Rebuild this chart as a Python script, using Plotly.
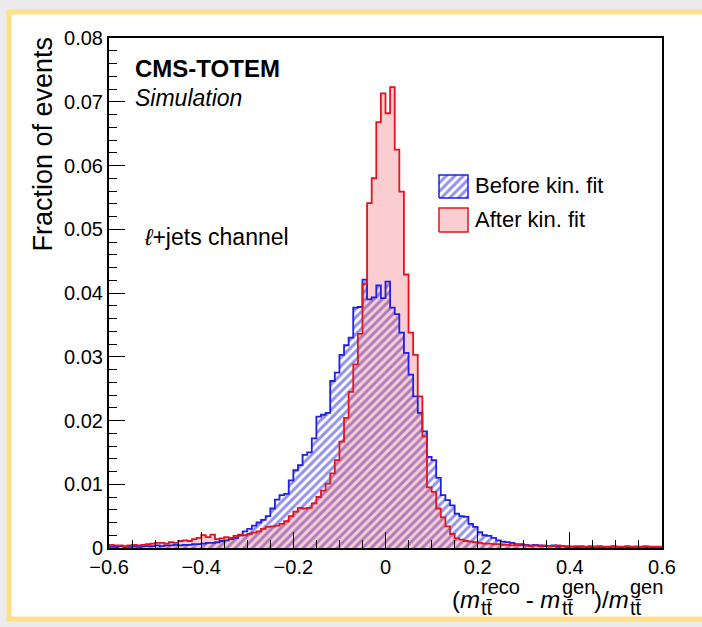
import numpy as np
import plotly.graph_objects as go

# ---------------- data ----------------
x_min, x_max, n_bins = -0.6, 0.6, 120

before_kin_fit = [
    0.0002, 0.0002, 0.0003, 0.0002, 0.0002, 0.0003, 0.0002, 0.0003, 0.0003, 0.0003,
    0.0004, 0.0003, 0.0004, 0.0004, 0.0005, 0.0004, 0.0005, 0.0005, 0.0006, 0.0006,
    0.0007, 0.0008, 0.0008, 0.0009, 0.0011, 0.0012, 0.0014, 0.0016, 0.0020, 0.0026,
    0.0030, 0.0035, 0.0040, 0.0044, 0.0050, 0.0062, 0.0076, 0.0083, 0.0085, 0.0106,
    0.0122, 0.0130, 0.0146, 0.0150, 0.0172, 0.0206, 0.0209, 0.0212, 0.0262, 0.0275,
    0.0303, 0.0318, 0.0330, 0.0377, 0.0378, 0.0421, 0.0390, 0.0393, 0.0412, 0.0392,
    0.0418, 0.0377, 0.0367, 0.0338, 0.0306, 0.0272, 0.0238, 0.0212, 0.0183, 0.0143,
    0.0138, 0.0110, 0.0083, 0.0075, 0.0067, 0.0054, 0.0050, 0.0049, 0.0038, 0.0033,
    0.0025, 0.0020, 0.0019, 0.0016, 0.0012, 0.0010, 0.0009, 0.0008, 0.0006, 0.0006,
    0.0005, 0.0004, 0.0005, 0.0004, 0.0003, 0.0003, 0.0004, 0.0002, 0.0003, 0.0002,
    0.0002, 0.0001, 0.0002, 0.0001, 0.0001, 0.0002, 0.0001, 0.0001, 0.0001, 0.0002,
    0.0001, 0.0001, 0.0001, 0.0001, 0.0002, 0.0001, 0.0001, 0.0001, 0.0001, 0.0001,
]

after_kin_fit = [
    0.0005, 0.0004, 0.0004, 0.0003, 0.0004, 0.0005, 0.0004, 0.0005, 0.0006, 0.0007,
    0.0008, 0.0008, 0.0007, 0.0009, 0.0008, 0.0011, 0.0012, 0.0011, 0.0014, 0.0016,
    0.0020, 0.0017, 0.0021, 0.0014, 0.0015, 0.0017, 0.0016, 0.0019, 0.0021, 0.0020,
    0.0022, 0.0024, 0.0026, 0.0030, 0.0033, 0.0034, 0.0035, 0.0038, 0.0042, 0.0050,
    0.0057, 0.0063, 0.0062, 0.0063, 0.0070, 0.0080, 0.0090, 0.0101, 0.0117, 0.0138,
    0.0167, 0.0204, 0.0245, 0.0288, 0.0336, 0.0414, 0.0541, 0.0580, 0.0668, 0.0713,
    0.0682, 0.0723, 0.0625, 0.0559, 0.0429, 0.0338, 0.0303, 0.0238, 0.0175, 0.0095,
    0.0088, 0.0062, 0.0048, 0.0034, 0.0022, 0.0015, 0.0013, 0.0011, 0.0010, 0.0009,
    0.0008, 0.0007, 0.0007, 0.0006, 0.0006, 0.0005, 0.0005, 0.0004, 0.0005, 0.0004,
    0.0004, 0.0003, 0.0004, 0.0003, 0.0004, 0.0003, 0.0003, 0.0004, 0.0003, 0.0003,
    0.0002, 0.0003, 0.0003, 0.0002, 0.0003, 0.0002, 0.0003, 0.0002, 0.0002, 0.0003,
    0.0002, 0.0002, 0.0003, 0.0002, 0.0002, 0.0002, 0.0003, 0.0002, 0.0002, 0.0002,
]

legend_labels = ["Before kin. fit", "After kin. fit"]
x_tick_vals = [-0.6, -0.4, -0.2, 0, 0.2, 0.4, 0.6]
x_tick_text = ["\u22120.6", "\u22120.4", "\u22120.2", "0", "0.2", "0.4", "0.6"]
y_tick_vals = [0, 0.01, 0.02, 0.03, 0.04, 0.05, 0.06, 0.07, 0.08]
y_tick_text = ["0", "0.01", "0.02", "0.03", "0.04", "0.05", "0.06", "0.07", "0.08"]

# ---------------- styling ----------------
FONT = "Liberation Sans, Arial, Helvetica, sans-serif"
BLUE_LINE = "#1f1fe6"
BLUE_HATCH = "#2626d6"
RED_LINE = "#e4141e"
RED_FILL = "rgba(236,70,80,0.27)"

W, H = 702, 627
ML, MR, MT, MB = 109, 40, 38, 79
PW, PH = W - ML - MR, H - MT - MB


def px_x(px):  # pixel -> paper (plot-area) fraction
    return (px - ML) / PW


def px_y(py):
    return (H - MB - py) / PH


edges = np.linspace(x_min, x_max, n_bins + 1)
centers = 0.5 * (edges[:-1] + edges[1:])
bin_w = (x_max - x_min) / n_bins


def outline(vals):
    xs = np.concatenate([[edges[0]], edges[:-1], [edges[-1]]])
    ys = np.concatenate([[0.0], np.asarray(vals), [0.0]])
    return xs, ys


HATCH = dict(shape="/", fgcolor=BLUE_HATCH, bgcolor="rgba(255,255,255,0)",
             size=6, solidity=0.5, fillmode="overlay")

fig = go.Figure()

# blue hatched histogram
fig.add_trace(go.Bar(
    x=centers, y=before_kin_fit, width=bin_w,
    marker=dict(color="rgba(255,255,255,0)", line=dict(width=0), pattern=HATCH),
    showlegend=False, hoverinfo="skip"))
bx, by = outline(before_kin_fit)
fig.add_trace(go.Scatter(x=bx, y=by, mode="lines", line=dict(color=BLUE_LINE, width=1.8, shape="hv"),
                         showlegend=False, hoverinfo="skip"))

# red filled histogram
fig.add_trace(go.Bar(
    x=centers, y=after_kin_fit, width=bin_w,
    marker=dict(color=RED_FILL, line=dict(width=0)),
    showlegend=False, hoverinfo="skip"))
rx, ry = outline(after_kin_fit)
fig.add_trace(go.Scatter(x=rx, y=ry, mode="lines", line=dict(color=RED_LINE, width=1.8, shape="hv"),
                         showlegend=False, hoverinfo="skip"))


# legend boxes on an overlay axis in plot-fraction units
def box(x0, x1, y0, y1):
    return [x0, x1, x1, x0, x0], [y0, y0, y1, y1, y0]


lx0, lx1 = px_x(439), px_x(468)
b_x, b_y = box(lx0, lx1, px_y(198), px_y(175))
fig.add_trace(go.Scatter(x=b_x, y=b_y, xaxis="x2", yaxis="y2", mode="lines", fill="toself",
                         fillcolor="rgba(255,255,255,0)", fillpattern=HATCH,
                         line=dict(color=BLUE_LINE, width=1.5), showlegend=False, hoverinfo="skip"))
r_x, r_y = box(lx0, lx1, px_y(232), px_y(208))
fig.add_trace(go.Scatter(x=r_x, y=r_y, xaxis="x2", yaxis="y2", mode="lines", fill="toself",
                         fillcolor=RED_FILL, line=dict(color=RED_LINE, width=1.5),
                         showlegend=False, hoverinfo="skip"))

annotations = []


def text(x, y, s, size, xanchor="left", yanchor="middle", angle=0):
    annotations.append(dict(x=x, y=y, xref="paper", yref="paper", text=s, showarrow=False,
                            xanchor=xanchor, yanchor=yanchor, textangle=angle,
                            font=dict(family=FONT, size=size, color="black")))


text(px_x(133), px_y(68), "<b>CMS-TOTEM</b>", 24)
text(px_x(133), px_y(98), "<i>Simulation</i>", 23)
text(px_x(142), px_y(237), "<i>ℓ</i>+jets channel", 23)
text(px_x(473), px_y(186), legend_labels[0], 22)
text(px_x(473), px_y(220), legend_labels[1], 22)

# y-axis title, ROOT style aligned to the top of the axis
text(px_x(42), px_y(35), "Fraction of events", 27, xanchor="center", yanchor="top", angle=-90)

# x-axis title with stacked super/subscripts, right aligned with the frame
MAIN, SCR = 24, 20
pieces = [  # (text, approx width in em, kind)
    ("(<i>m</i>", 0.333 + 0.833, "main"),
    ("reco", 1.945, "scr"),
    (" - <i>m</i>", 0.889 + 0.833, "main"),
    ("gen", 1.668, "scr"),
    (")/<i>m</i>", 0.333 + 0.278 + 0.833, "main"),
    ("gen", 1.668, "scr"),
]
widths = [w * (MAIN if k == "main" else SCR) for _, w, k in pieces]
cur = 660 - sum(widths)
for (s, w, k), wp in zip(pieces, widths):
    if k == "main":
        text(px_x(cur), px_y(599), s, MAIN)
    else:
        text(px_x(cur + 1), px_y(587), s, SCR)
        text(px_x(cur + 1), px_y(608), "tt\u0304", SCR)
    cur += wp

fig.update_layout(
    width=W, height=H, autosize=False,
    margin=dict(l=ML, r=MR, t=MT, b=MB),
    paper_bgcolor="#ebebeb", plot_bgcolor="white",
    barmode="overlay", bargap=0,
    font=dict(family=FONT, size=20, color="black"),
    xaxis=dict(range=[x_min, x_max], tickvals=x_tick_vals, ticktext=x_tick_text,
               ticks="inside", ticklen=16, tickwidth=1, tickcolor="black",
               minor=dict(ticks="inside", ticklen=8, dtick=0.05, tick0=0, tickcolor="black", tickwidth=1),
               showline=True, linecolor="black", linewidth=2, mirror=True,
               showgrid=False, zeroline=False, tickfont=dict(size=20)),
    yaxis=dict(range=[0, 0.08], tickvals=y_tick_vals, ticktext=y_tick_text,
               ticks="inside", ticklen=16, tickwidth=1, tickcolor="black",
               minor=dict(ticks="inside", ticklen=8, dtick=0.002, tick0=0, tickcolor="black", tickwidth=1),
               showline=True, linecolor="black", linewidth=2, mirror=True,
               showgrid=False, zeroline=False, tickfont=dict(size=20)),
    xaxis2=dict(overlaying="x", range=[0, 1], visible=False, fixedrange=True),
    yaxis2=dict(overlaying="y", range=[0, 1], visible=False, fixedrange=True),
    annotations=annotations,
    shapes=[dict(type="rect", xref="paper", yref="paper", layer="below",
                 x0=px_x(9), x1=px_x(740), y0=px_y(619), y1=px_y(12),
                 fillcolor="white", line=dict(color="#ffe08a", width=5))],
)

fig.write_html("out.html", config={"displayModeBar": False},
               post_script="document.body.style.margin='0';document.body.style.overflow='hidden';")
